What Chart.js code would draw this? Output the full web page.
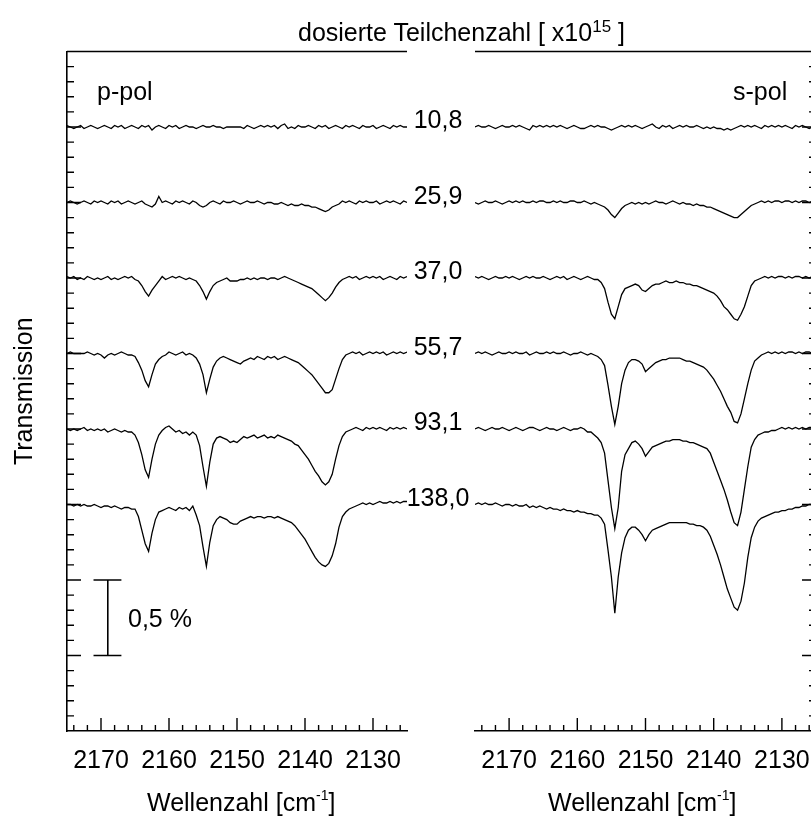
<!DOCTYPE html>
<html>
<head>
<meta charset="utf-8">
<title>dosierte Teilchenzahl</title>
<script src="https://cdn.jsdelivr.net/npm/chart.js@4.4.0/dist/chart.umd.min.js"></script>
<style>
    html, body { margin: 0; padding: 0; background: #fff; overflow: hidden; }
    #wrap { position: relative; width: 811px; height: 817px; overflow: hidden;
            font-family: "Liberation Sans", Arial, sans-serif; color: #000; }
    .box { position: absolute; top: 0; height: 817px; }
    .txt { position: absolute; font-size: 25px; line-height: 25px; white-space: nowrap; }
    .dose { transform: translateX(-50%); }
</style>
</head>
<body>
<div id="wrap">
    <div class="box" style="left:0;width:420px"><canvas id="chartL" width="420" height="817"></canvas></div>
    <div class="box" style="left:420px;width:410px"><canvas id="chartR" width="410" height="817"></canvas></div>

    <div class="txt" style="left:298px;top:20px">dosierte Teilchenzahl [ x10<span style="font-size:17px;position:relative;top:-9px">15</span> ]</div>
    <div class="txt" style="left:97px;top:79px">p-pol</div>
    <div class="txt" style="left:733px;top:79px">s-pol</div>
    <div class="txt" style="left:128px;top:606px">0,5 %</div>
    <div class="txt" style="left:147px;top:790px">Wellenzahl [cm<span style="font-size:14px;position:relative;top:-11px">-1</span>]</div>
    <div class="txt" style="left:548px;top:790px">Wellenzahl [cm<span style="font-size:14px;position:relative;top:-11px">-1</span>]</div>
    <div id="doseLabels"></div>
</div>

<script>
// Wellenzahl-Raster [cm-1], gemeinsam fuer alle Spektren
const WAVENUMBER = [
    2175, 2174.5, 2174, 2173.5, 2173, 2172.5, 2172, 2171.5, 2171, 2170.5,
    2170, 2169.5, 2169, 2168.5, 2168, 2167.5, 2167, 2166.5, 2166, 2165.5,
    2165, 2164.5, 2164, 2163.5, 2163, 2162.5, 2162, 2161.5, 2161, 2160.5,
    2160, 2159.5, 2159, 2158.5, 2158, 2157.5, 2157, 2156.5, 2156, 2155.5,
    2155, 2154.5, 2154, 2153.5, 2153, 2152.5, 2152, 2151.5, 2151, 2150.5,
    2150, 2149.5, 2149, 2148.5, 2148, 2147.5, 2147, 2146.5, 2146, 2145.5,
    2145, 2144.5, 2144, 2143.5, 2143, 2142.5, 2142, 2141.5, 2141, 2140.5,
    2140, 2139.5, 2139, 2138.5, 2138, 2137.5, 2137, 2136.5, 2136, 2135.5,
    2135, 2134.5, 2134, 2133.5, 2133, 2132.5, 2132, 2131.5, 2131, 2130.5,
    2130, 2129.5, 2129, 2128.5, 2128, 2127.5, 2127, 2126.5, 2126, 2125.5, 2125
];

// dosierte Teilchenzahl [x10^15] und Versatz der Spektren [%]
const DOSES = ['10,8', '25,9', '37,0', '55,7', '93,1', '138,0'];
const OFFSETS = [4.0, 3.5, 3.0, 2.5, 2.0, 1.5];

// Transmissionsaenderung in 0,01 %, p-pol
const P_10_8 = [
    1,0,-1,0,1,-1,0,1,0,-1,  0,1,0,-1,1,0,1,-1,0,1,  0,-1,1,0,1,-2,0,1,0,-1,
    1,0,1,-1,0,1,0,0,-1,0,  1,0,0,1,0,0,-1,0,0,0,  0,0,-1,1,0,-1,0,1,0,1,
    0,1,-1,1,2,-1,0,-1,1,0,  0,1,0,-1,1,0,1,-1,0,1,  0,-1,1,0,1,0,-1,1,0,0,
    1,-1,0,1,0,-1,1,0,1,0,0
];
const P_25_9 = [
    0,1,0,-1,0,1,0,-1,1,0,  1,0,-1,1,0,1,-1,0,1,0,  -1,0,1,-1,-2,-3,-1,4,0,1,
    0,-1,1,0,1,0,-1,1,0,-2,  -3,-2,0,1,0,-1,1,0,0,1,  0,-1,0,1,0,0,1,0,-1,0,
    0,-1,-1,0,-1,-2,-1,-2,-2,-1,  -2,-2,-3,-3,-4,-5,-6,-5,-3,-2,  -1,1,0,1,0,-1,1,0,1,0,
    0,1,-1,0,1,0,1,0,-1,1,0
];
const P_37_0 = [
    1,0,1,-1,0,-1,1,0,-1,0,  -1,0,1,-1,0,-1,0,1,0,1,  -1,-2,-5,-9,-12,-8,-5,-2,1,-1,
    0,1,0,1,0,-1,0,-1,-2,-5,  -9,-14,-9,-5,-3,-2,-1,0,-2,-2,  -2,-1,-1,0,-1,0,-1,0,0,-1,
    0,0,-1,0,1,0,-1,-2,-3,-4,  -5,-6,-7,-9,-11,-13,-15,-13,-10,-6,  -3,-1,0,1,0,1,-1,0,1,0,
    1,0,1,-1,0,1,0,-1,1,0,1
];
const P_55_7 = [
    0,1,0,0,0,0,1,0,-1,0,  -1,-3,-1,0,-1,0,1,0,-1,-1,  -2,-6,-11,-18,-22,-14,-7,-4,-2,-1,
    1,0,-1,0,1,-1,0,-1,-3,-7,  -14,-26,-17,-9,-5,-3,-2,-3,-4,-5,  -6,-7,-5,-4,-3,-4,-2,-3,-4,-2,
    -3,-2,-4,-3,-2,-3,-4,-5,-6,-8,  -10,-12,-14,-17,-20,-23,-26,-26,-24,-17,  -10,-4,-1,0,1,0,1,-1,0,1,
    0,1,0,1,-1,0,1,0,1,0,1
];
const P_93_1 = [
    0,-1,0,-1,0,1,-1,0,-1,0,  -1,0,-2,-1,0,-1,-2,-1,-2,-2,  -4,-9,-17,-27,-32,-20,-10,-4,-1,1,
    2,0,-2,-1,-3,-2,-4,-2,-4,-11,  -25,-38,-22,-10,-6,-5,-6,-7,-9,-8,  -9,-7,-5,-6,-5,-4,-6,-5,-4,-6,
    -5,-6,-4,-5,-6,-7,-8,-10,-11,-14,  -17,-20,-24,-28,-31,-35,-37,-35,-30,-20,  -11,-5,-2,-1,0,1,0,-1,1,0,
    1,0,1,0,-1,1,0,1,0,1,0
];
const P_138_0 = [
    0,0,-1,0,-1,0,-1,-1,0,-1,  -2,-1,-1,-2,-1,-2,-3,-2,-2,-3,  -3,-8,-17,-26,-31,-19,-10,-5,-4,-3,
    -2,-3,-4,-2,-3,-2,-4,-1,-7,-14,  -28,-41,-25,-14,-10,-8,-9,-10,-12,-13,  -13,-11,-10,-9,-8,-9,-8,-8,-9,-8,
    -8,-9,-8,-9,-10,-11,-12,-14,-17,-20,  -23,-27,-31,-35,-38,-40,-41,-39,-34,-26,  -15,-8,-5,-3,-2,-1,0,1,0,1,
    0,1,2,1,1,2,1,2,1,2,2
];

// Transmissionsaenderung in 0,01 %, s-pol
const S_10_8 = [
    0,1,0,0,1,0,-1,0,1,0,  0,1,0,1,0,-1,-2,1,0,1,  0,1,0,1,0,1,0,-1,0,1,
    0,-1,-1,0,1,0,1,0,0,-1,  -2,-1,0,1,0,1,0,1,0,-1,  0,1,2,0,-1,1,0,1,-1,0,
    1,0,1,0,0,1,0,-1,0,-1,  0,-1,-1,-2,-1,-2,-1,0,1,0,  1,0,1,0,-1,1,0,1,0,1,
    0,1,0,-1,1,0,1,0,-1,0,0
];
const S_25_9 = [
    0,-1,0,1,0,0,1,0,-1,0,  1,0,1,0,1,0,0,1,0,1,  1,0,0,1,0,1,0,0,1,1,
    0,0,1,0,-1,0,-1,-2,-3,-5,  -8,-10,-7,-4,-2,-1,0,-1,0,-1,  0,-1,0,1,0,0,-1,0,1,0,
    -1,0,-1,-1,-2,-1,-2,-2,-3,-3,  -4,-5,-6,-7,-8,-9,-10,-10,-8,-6,  -4,-2,-1,0,1,0,1,0,1,1,
    0,1,1,0,1,0,1,1,0,1,0
];
const S_37_0 = [
    1,0,1,0,-1,0,1,0,0,1,  0,1,0,-1,0,1,0,1,0,0,  1,0,-1,0,1,0,1,-1,0,1,
    0,-1,0,1,0,-1,-1,-3,-7,-16,  -24,-27,-19,-11,-7,-6,-5,-4,-5,-8,  -9,-7,-5,-4,-4,-3,-2,-3,-3,-2,
    -3,-3,-4,-4,-5,-5,-6,-7,-8,-9,  -10,-12,-15,-19,-21,-24,-27,-28,-24,-19,  -12,-5,-2,-1,0,1,0,1,0,1,
    1,0,1,0,1,1,0,1,0,1,1
];
const S_55_7 = [
    0,1,0,1,0,-1,0,1,0,0,  1,0,1,0,0,1,-1,0,1,0,  0,1,0,1,0,0,1,0,-1,0,
    0,1,0,-1,0,-1,-2,-4,-8,-21,  -35,-47,-35,-20,-11,-6,-4,-4,-5,-7,  -12,-10,-8,-6,-5,-4,-4,-3,-3,-3,
    -3,-4,-5,-5,-6,-7,-8,-9,-11,-14,  -17,-21,-25,-30,-35,-39,-45,-46,-40,-30,  -20,-11,-5,-3,-1,0,1,0,1,0,
    1,0,1,1,0,1,0,1,1,0,1
];
const S_93_1 = [
    0,1,0,-1,0,1,0,0,1,0,  -1,0,1,0,-1,0,1,1,0,-1,  0,1,0,0,-1,0,1,0,-1,0,
    0,1,0,-2,-2,-4,-6,-9,-16,-34,  -52,-66,-52,-28,-17,-13,-9,-8,-10,-13,  -18,-15,-12,-11,-10,-9,-8,-8,-7,-7,
    -7,-8,-8,-9,-9,-10,-11,-12,-13,-16,  -22,-28,-34,-40,-47,-55,-62,-64,-55,-40,  -25,-12,-7,-4,-3,-2,-2,-1,-1,0,
    1,0,1,0,1,0,1,0,1,1,0
];
const S_138_0 = [
    0,1,0,1,0,0,1,0,-1,0,  0,-1,0,-1,-1,0,-2,-1,-2,-1,  -2,-3,-2,-3,-3,-4,-3,-4,-4,-5,
    -4,-5,-5,-6,-6,-7,-7,-9,-13,-30,  -48,-72,-48,-32,-22,-17,-15,-15,-17,-20,  -24,-20,-17,-16,-15,-14,-13,-12,-12,-12,
    -12,-12,-12,-13,-13,-14,-14,-15,-17,-21,  -27,-33,-40,-48,-56,-62,-68,-70,-64,-52,  -35,-22,-15,-11,-9,-8,-7,-6,-5,-5,
    -4,-4,-3,-3,-2,-2,-1,-1,0,0,1
];

const P_POL = [P_10_8, P_25_9, P_37_0, P_55_7, P_93_1, P_138_0];
const S_POL = [S_10_8, S_25_9, S_37_0, S_55_7, S_93_1, S_138_0];

// Achsen
const X_TICKS = [2170, 2160, 2150, 2140, 2130];
const X_RANGE = [2125, 2175];
const Y_RANGE = [0, 4.5];

// Massstab 0,5 %
const SCALEBAR_X = 2169;
const SCALEBAR_Y = [0.5, 1.0];
const SCALEBAR_CAP = [2171.1, 2167.0];

Chart.defaults.font.family = '"Liberation Sans", Arial, sans-serif';
Chart.defaults.color = '#000';

function spectrum(dev, off) {
    return {
        data: WAVENUMBER.map((w, i) => ({ x: w, y: off + dev[i] / 100 })),
        borderColor: '#000',
        borderWidth: 1.3
    };
}

function scaleBar() {
    const style = { borderColor: '#000', borderWidth: 1.6 };
    return [
        { data: SCALEBAR_Y.map(v => ({ x: SCALEBAR_X, y: v })), ...style },
        { data: SCALEBAR_CAP.map(w => ({ x: w, y: SCALEBAR_Y[0] })), ...style },
        { data: SCALEBAR_CAP.map(w => ({ x: w, y: SCALEBAR_Y[1] })), ...style }
    ];
}

// Rahmen oben, rechte Achse und nach innen zeigende Striche
const framePlugin = {
    id: 'frame',
    afterDraw(chart, args, opts) {
        const { ctx, chartArea: a, scales: { x, y } } = chart;
        ctx.save();
        ctx.strokeStyle = '#000';
        ctx.lineWidth = 1.6;
        ctx.beginPath();
        ctx.moveTo(a.left, a.top);
        ctx.lineTo(a.right, a.top);
        if (opts.side === 'right') {
            ctx.moveTo(a.right, a.top);
            ctx.lineTo(a.right, a.bottom);
        }
        ctx.stroke();

        ctx.lineWidth = 1.4;
        ctx.beginPath();
        for (let w = 2126; w <= 2174; w += 2) {
            const px = x.getPixelForValue(w);
            const len = w % 10 === 0 ? 13 : 6;
            ctx.moveTo(px, a.bottom);
            ctx.lineTo(px, a.bottom - len);
        }
        for (let k = 1; k < 45; k++) {
            const py = y.getPixelForValue(k / 10);
            const len = k % 5 === 0 ? 14 : 7;
            if (opts.side === 'right') {
                ctx.moveTo(a.right, py);
                ctx.lineTo(a.right - len, py);
            } else {
                ctx.moveTo(a.left, py);
                ctx.lineTo(a.left + len, py);
            }
        }
        ctx.stroke();
        ctx.restore();
    }
};

function makeChart(id, series, side, extra) {
    const isRight = side === 'right';
    return new Chart(document.getElementById(id), {
        type: 'line',
        data: {
            datasets: series.map((s, i) => spectrum(s, OFFSETS[i])).concat(extra)
        },
        options: {
            responsive: false,
            animation: false,
            events: [],
            layout: isRight
                ? { padding: { left: 55, right: 14, top: 51.5, bottom: 0 } }
                : { padding: { left: 0, right: 13, top: 51.5, bottom: 0 } },
            elements: { point: { radius: 0 }, line: { tension: 0 } },
            plugins: {
                legend: { display: false },
                tooltip: { enabled: false },
                frame: { side }
            },
            scales: {
                x: {
                    type: 'linear',
                    reverse: true,
                    min: X_RANGE[0],
                    max: X_RANGE[1],
                    afterBuildTicks: s => { s.ticks = X_TICKS.map(v => ({ value: v })); },
                    afterFit: s => { s.height = 86; },
                    ticks: {
                        font: { size: 25 },
                        color: '#000',
                        padding: 7,
                        maxRotation: 0,
                        autoSkip: false,
                        callback: v => String(v)
                    },
                    grid: { display: false },
                    border: { display: true, color: '#000', width: 1.6 }
                },
                y: {
                    display: !isRight,
                    min: Y_RANGE[0],
                    max: Y_RANGE[1],
                    afterFit: s => { s.width = isRight ? 0 : 67; },
                    ticks: { display: false },
                    grid: { display: false },
                    border: { display: true, color: '#000', width: 1.6 },
                    title: {
                        display: true,
                        text: 'Transmission',
                        font: { size: 25 },
                        color: '#000',
                        padding: { top: 10, bottom: 0 }
                    }
                }
            }
        },
        plugins: [framePlugin]
    });
}

const chartL = makeChart('chartL', P_POL, 'left', scaleBar());
const chartR = makeChart('chartR', S_POL, 'right', []);

// Dosis-Beschriftung zwischen den Feldern, an der Basislinie jedes Spektrums
const labelBox = document.getElementById('doseLabels');
DOSES.forEach((d, i) => {
    const py = chartL.scales.y.getPixelForValue(OFFSETS[i]);
    const el = document.createElement('div');
    el.className = 'txt dose';
    el.textContent = d;
    el.style.left = '438px';
    el.style.top = (py + 1 - 21) + 'px';
    labelBox.appendChild(el);
});
</script>
</body>
</html>
